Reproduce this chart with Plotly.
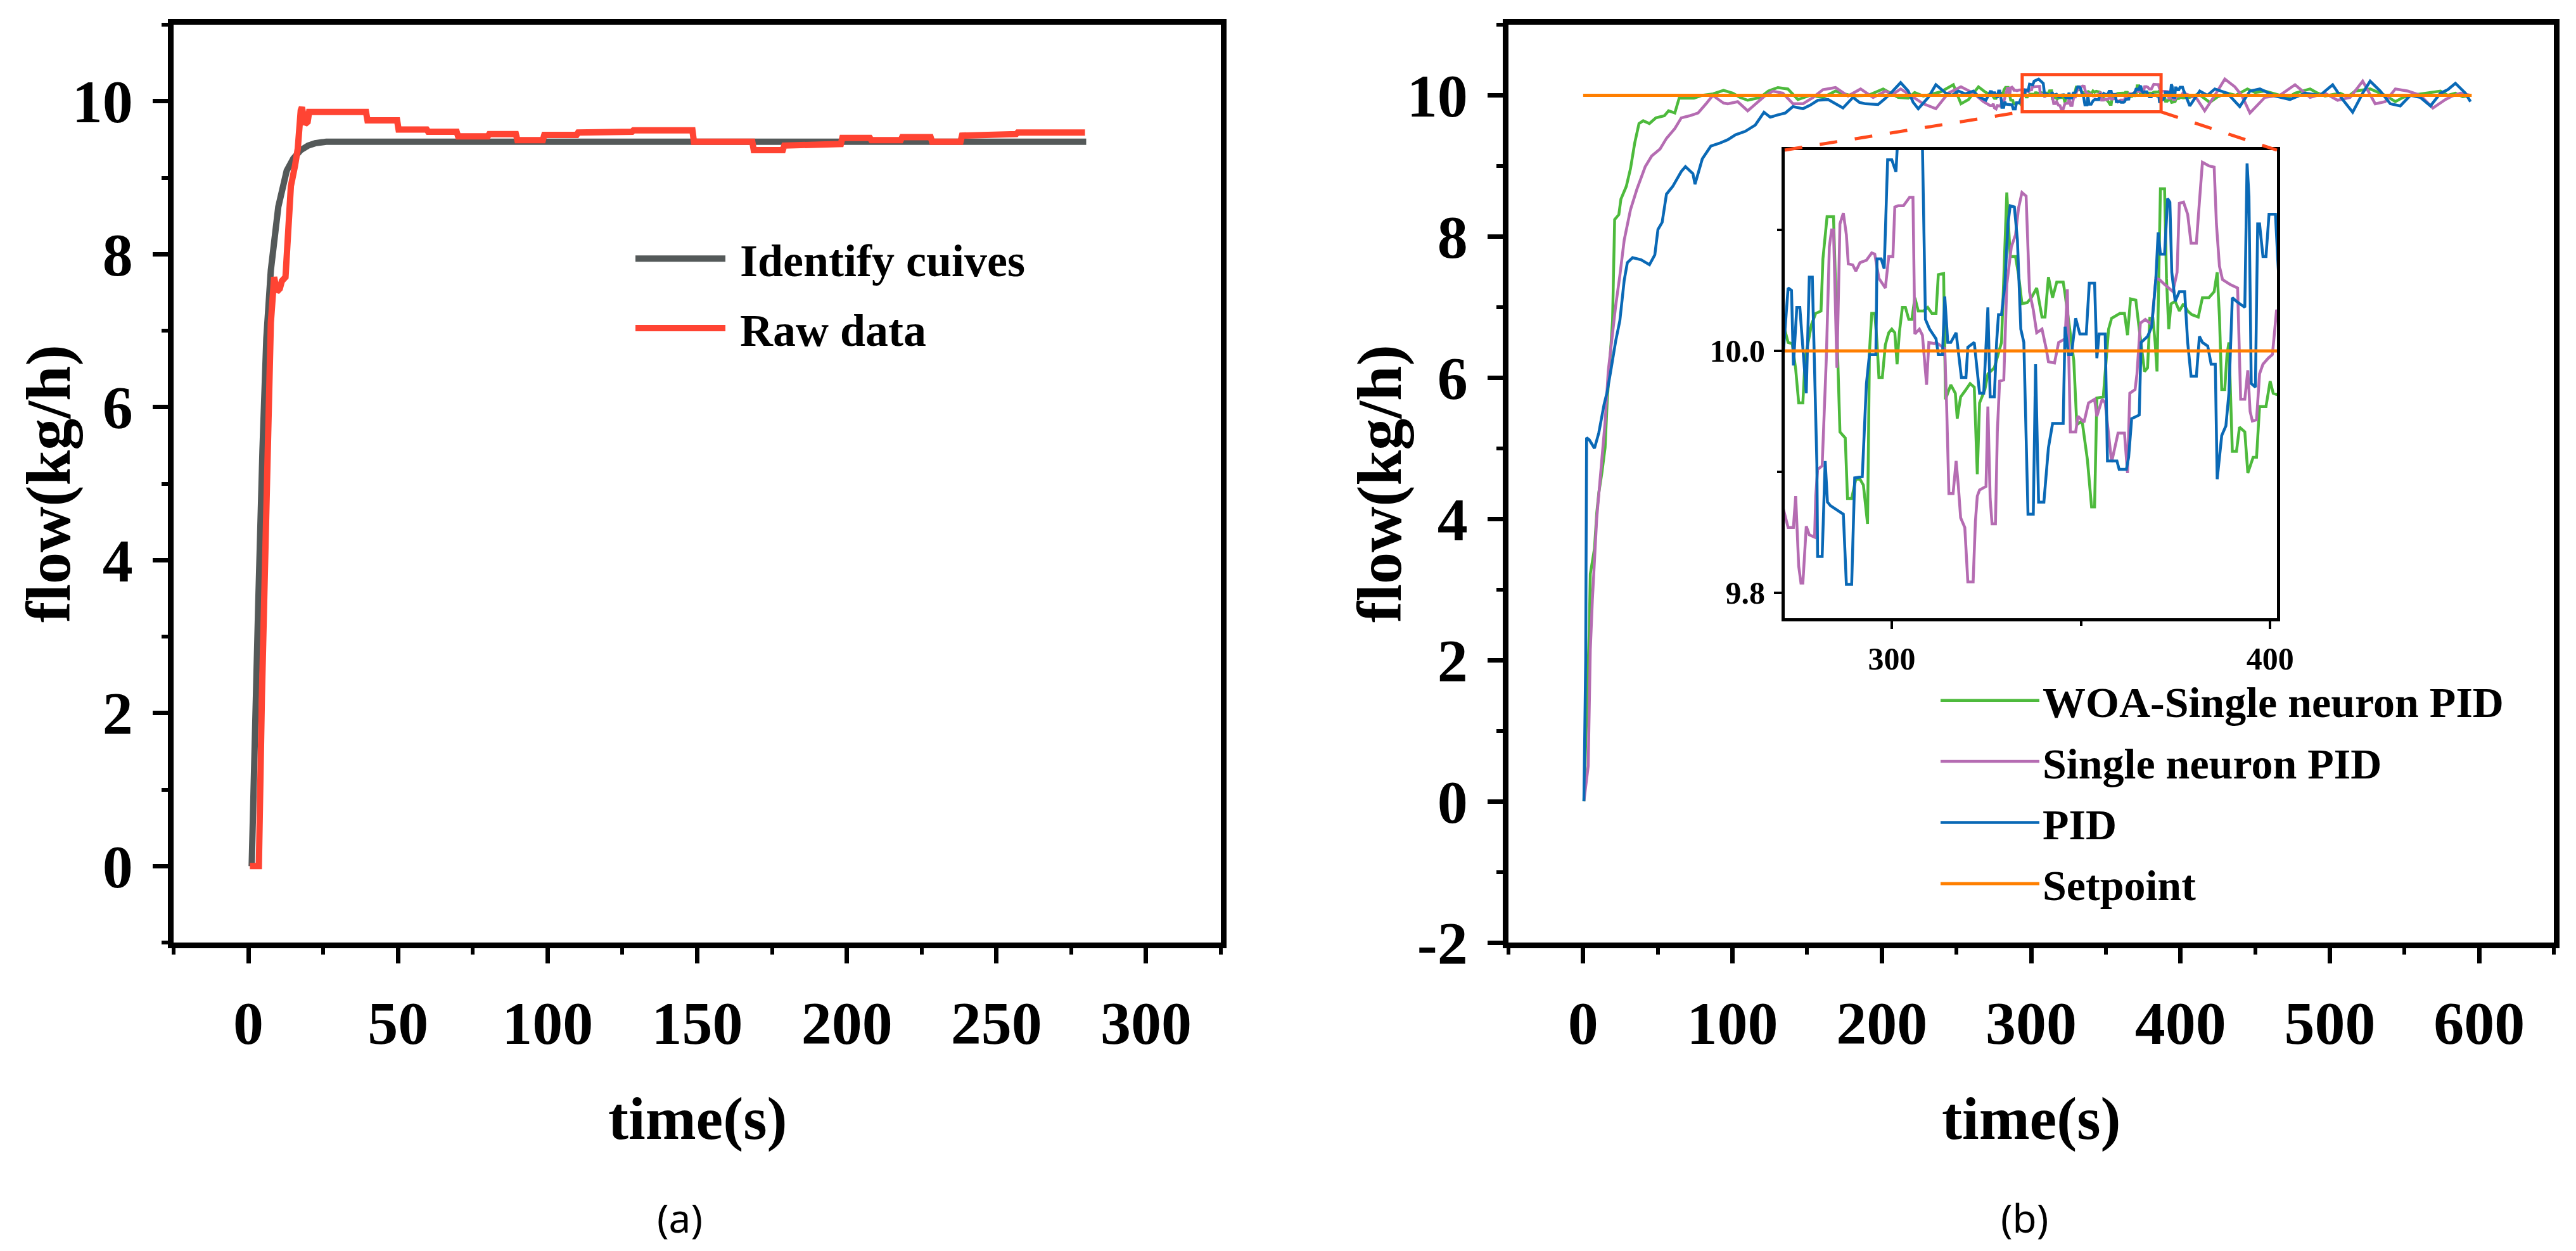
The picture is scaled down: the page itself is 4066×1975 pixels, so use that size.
import plotly.graph_objects as go

W, H = 4066, 1975

# ---------------- panel (a) data ----------------
ident_t = [1.1, 1.9, 3.3, 4.7, 6.0, 7.5, 10.0, 12.8, 15.0, 17.5, 20.0, 22.3, 26.0, 40.0, 100.0, 200.0, 280.0]
ident_v = [0.0, 1.57, 3.44, 5.43, 6.9, 7.79, 8.62, 9.09, 9.25, 9.36, 9.42, 9.45, 9.47, 9.47, 9.47, 9.47, 9.47]

raw_t = [0.5, 3.5, 4.5, 6.0, 7.5, 8.6, 9.5, 10.5, 11.2, 12.4, 13.3, 14.2, 15.6, 16.5, 17.5, 17.9,
         18.9, 19.8, 20.3, 39.3, 39.8, 49.7, 50.2, 59.6, 60.1, 69.6, 70.1, 80.0, 80.5, 89.4, 89.9,
         98.4, 98.9, 109.7, 110.2, 119.7, 120.2, 128.2, 128.7, 148.4, 148.9, 168.4, 168.9, 178.6,
         179.1, 188.3, 188.8, 198.0, 198.5, 207.7, 208.2, 218.0, 218.5, 228.0, 228.5, 238.0, 238.5,
         248.0, 248.5, 256.6, 257.1, 279.6]
raw_v = [0.0, 0.0, 2.2, 5.0, 7.1, 7.7, 7.51, 7.55, 7.65, 7.7, 8.34, 8.89, 9.16, 9.38, 9.88, 9.92,
         9.7, 9.73, 9.86, 9.86, 9.75, 9.75, 9.63, 9.63, 9.6, 9.6, 9.54, 9.54, 9.57, 9.57, 9.49,
         9.49, 9.56, 9.56, 9.59, 9.59, 9.6, 9.6, 9.62, 9.62, 9.47, 9.47, 9.36, 9.36,
         9.42, 9.42, 9.44, 9.44, 9.52, 9.52, 9.49, 9.49, 9.53, 9.53, 9.47, 9.47, 9.55,
         9.55, 9.57, 9.57, 9.59, 9.59]

# ---------------- panel (b) data ----------------
pid_t = [0.5, 1.7, 2.3, 4.1, 7.6, 10.5, 14.0, 16.1, 19.0, 21.8, 24.6, 27.5, 29.6, 33.1, 38.8, 44.4,
         48.0, 50.1, 52.9, 55.8, 60.0, 65.7, 68.5, 73.5, 74.9, 77.0, 79.8, 85.5, 91.2, 96.8, 102.0,
         108.6, 115.3, 121.1, 125.3, 130.0, 135.4, 140.5, 147.2, 152.0, 157.2, 164.0, 169.0, 174.0,
         180.7, 185.0, 189.1, 197.5, 202.0, 206.0, 212.6, 217.7, 221.0, 224.4, 231.1, 236.2, 242.9,
         247.0, 251.3, 256.0, 261.3, 265.0, 269.7,
         272.6, 273.5, 274.0, 274.9, 275.7, 276.5, 277.4, 278.2, 279.0, 280.2, 280.4, 281.6, 282.4,
         283.0, 283.8, 287.2, 288.0, 289.4, 290.2, 292.2, 292.7, 293.3, 294.1, 295.8, 296.1, 297.2,
         298.0, 298.9, 300.0, 301.1, 302.0, 303.5, 305.0, 306.5, 308.1, 308.9, 310.0, 311.7, 312.3,
         313.4, 314.0, 314.8, 315.6, 317.0, 318.4, 319.6, 320.1, 321.8, 323.2, 324.3, 324.9, 325.4,
         326.0, 327.1, 327.7, 328.2, 329.0, 329.9, 330.7, 331.3, 332.4, 333.2, 334.1, 334.9, 336.0,
         337.4, 338.0, 338.8, 340.2, 341.4, 342.5, 345.3, 345.8, 346.7, 347.5, 348.6, 349.7, 351.4,
         352.2, 353.6, 354.2, 354.8, 356.4, 357.0, 359.5, 360.1, 362.0, 362.6, 363.4, 365.4, 365.9,
         367.6, 368.7, 369.8, 370.4, 371.0, 372.1, 372.9, 373.5, 374.0, 374.9, 376.0, 377.4, 378.2,
         379.1, 380.5, 381.3, 382.1, 383.5, 384.4, 385.5, 386.0, 387.2, 388.3, 389.1, 390.0, 391.1,
         393.3, 393.9, 394.4, 395.0, 396.1, 396.7, 397.2, 398.1, 398.9, 399.7, 401.4, 402.0,
         406.2, 412.9, 418.0, 423.0, 431.4, 439.7, 446.5, 453.2, 458.0, 463.3, 473.3, 478.0, 483.4,
         493.5, 501.9, 508.6, 515.3, 522.0, 527.0, 533.8, 540.5, 547.2, 554.0, 560.6, 567.4, 574.1,
         579.0, 584.1, 590.8, 594.2]
pid_v = [0.0, 2.0, 5.15, 5.12, 5.0, 5.22, 5.62, 5.8, 6.16, 6.52, 6.81, 7.38, 7.63, 7.7, 7.67, 7.6,
         7.74, 8.1, 8.2, 8.6, 8.71, 8.92, 8.99, 8.89, 8.74, 8.89, 9.1, 9.28, 9.32, 9.37, 9.44,
         9.49, 9.58, 9.76, 9.69, 9.72, 9.75, 9.84, 9.81, 9.86, 9.93, 9.94, 9.88, 9.82,
         9.97, 9.9, 9.88, 9.87, 9.95, 10.03, 10.18, 10.06, 9.9, 9.81, 9.97, 10.15, 10.03,
         10.0, 10.06, 10.02, 10.06, 9.98, 9.93,
         10.052, 10.05, 9.988, 10.036, 10.036, 10.0, 9.965, 10.061, 10.061, 9.907, 9.83, 9.83, 9.909,
         9.875, 9.872, 9.865, 9.807, 9.807, 9.895, 9.896, 9.93, 9.973, 9.997, 9.997, 10.076, 10.076,
         10.068, 10.158, 10.158, 10.148, 10.2, 10.22, 10.23, 10.2, 10.17, 10.026, 10.018, 10.01, 9.997,
         9.997, 10.045, 10.007, 10.007, 10.015, 9.978, 9.978, 10.003, 10.007, 9.965, 9.965, 10.0, 10.036,
         9.962, 9.962, 10.007, 10.03, 10.03, 10.055, 10.105, 10.12, 10.119, 10.092, 10.018, 10.007, 9.865,
         9.865, 9.989, 9.875, 9.875, 9.92, 9.94, 9.94, 10.02, 9.997, 9.997, 10.027, 10.014, 10.014,
         10.056, 10.056, 9.994, 10.014, 10.014, 9.909, 9.909, 9.902, 9.902, 9.912, 9.944, 9.947, 10.007,
         10.012, 10.02, 10.06, 10.098, 10.08, 10.08, 10.126, 10.123, 10.065, 10.041, 10.049, 10.049, 10.007,
         9.979, 9.979, 10.012, 10.007, 10.004, 9.989, 9.989, 9.894, 9.93, 9.938, 9.965, 10.044, 10.041,
         10.036, 10.155, 10.128, 9.973, 9.97, 10.105, 10.105, 10.078, 10.078, 10.113, 10.113, 10.076,
         9.85, 10.06, 10.0, 10.09, 10.03, 9.84, 10.06, 10.09, 10.04, 9.99, 9.94, 9.98, 10.03,
         10.0, 10.15, 9.94, 9.76, 10.03, 10.2, 10.06, 9.88, 9.85, 10.0, 9.97, 9.85, 10.03,
         10.08, 10.17, 10.03, 9.91]

woa_t = [0.5, 2.5, 4.1, 4.8, 7.6, 9.1, 10.5, 12.6, 14.7, 16.1, 18.3, 19.7, 21.1, 23.9, 25.3, 28.9,
         31.7, 34.5, 37.4, 40.2, 44.4, 48.7, 54.4, 57.2, 61.4, 64.3, 69.9, 74.2, 79.8, 87.0, 94.0,
         100.2, 105.0, 110.2, 118.6, 124.0, 130.4, 137.1, 143.8, 152.2, 160.6, 169.0, 175.0, 180.7,
         190.8, 200.9, 211.0, 217.7, 222.0, 227.8, 234.0, 239.5, 247.9, 253.0, 258.0, 264.7, 269.0,
         272.6, 273.7, 274.6, 275.4, 276.5, 277.1, 278.8, 279.9, 281.3, 281.8, 282.9, 284.6, 285.2,
         285.8, 286.3, 287.7, 288.3, 289.4, 290.5, 291.6, 292.5, 293.6, 294.1, 294.7, 295.5, 296.1,
         296.6, 297.5, 298.3, 299.2, 300.0, 300.8, 301.4, 302.0, 302.8, 303.6, 304.5, 305.3, 306.1,
         307.0, 308.4, 309.5, 310.6, 311.7, 312.3, 313.7, 314.2, 315.6, 316.8, 317.3, 318.2, 319.6,
         320.7, 321.8, 322.1, 322.6, 323.2, 324.6, 325.4, 327.1, 329.0, 329.9, 330.4, 331.3, 332.7,
         333.5, 334.4, 335.8, 336.9, 338.3, 339.7, 340.5, 341.4, 342.5, 343.6, 345.3, 345.8, 346.9,
         348.1, 348.9, 350.3, 351.7, 352.8, 353.6, 354.2, 355.9, 356.4, 357.3, 358.1, 360.3, 361.5,
         362.3, 363.1, 364.5, 365.4, 365.9, 366.8, 367.6, 368.2, 369.0, 369.6, 370.1, 371.0, 372.1,
         372.6, 373.2, 373.8, 374.9, 376.0, 377.1, 378.2, 379.3, 381.0, 382.1, 383.8, 385.2, 386.0,
         386.6, 387.2, 388.0, 388.6, 389.1, 390.0, 391.1, 391.9, 393.3, 394.1, 395.5, 396.4, 397.2,
         398.9, 400.0, 400.8, 401.7,
         406.2, 412.0, 419.6, 425.0, 431.4, 437.0, 444.8, 450.0, 456.5, 466.6, 472.0, 476.7, 486.8,
         491.0, 496.8, 506.9, 512.0, 517.0, 527.0, 537.1, 543.9, 549.0, 554.0, 564.0, 574.1, 579.0,
         584.1, 589.0, 594.2]
woa_v = [0.0, 1.2, 2.43, 3.22, 3.58, 4.08, 4.37, 4.66, 5.01, 5.66, 6.38, 6.81, 8.24, 8.31, 8.53, 8.71,
         8.96, 9.32, 9.6, 9.64, 9.6, 9.68, 9.71, 9.78, 9.75, 9.96, 9.96, 9.96, 10.0, 10.02, 10.07,
         10.03, 9.97, 9.93, 9.97, 10.06, 10.11, 10.09, 9.94, 10.0, 9.97, 10.06, 10.02, 9.99,
         10.0, 10.09, 9.97, 9.96, 10.04, 9.99, 10.02, 10.05, 10.15, 9.88, 9.94, 10.12, 10.05,
         10.007, 10.006, 9.985, 9.957, 9.957, 9.994, 10.022, 10.031, 10.033, 10.076, 10.111, 10.111, 10.049,
         9.981, 9.933, 9.928, 9.878, 9.878, 9.894, 9.894, 9.889, 9.857, 9.999, 10.031, 10.031, 10.007,
         9.978, 9.978, 10.005, 10.015, 10.018, 10.015, 9.989, 10.015, 10.036, 10.036, 10.026, 10.026, 10.044,
         10.033, 10.033, 10.036, 10.031, 10.031, 10.063, 10.064, 9.96, 9.972, 9.965, 9.944, 9.962, 9.968,
         9.973, 9.97, 9.941, 9.898, 9.957, 9.968, 9.981, 9.986, 10.007, 10.089, 10.131, 10.078, 10.078,
         10.063, 10.039, 10.04, 10.044, 10.052, 10.028, 10.028, 10.061, 10.044, 10.057, 10.057, 10.047, 10.021,
         9.992, 9.939, 9.942, 9.91, 9.871, 9.871, 9.961, 9.962, 9.981, 10.018, 10.027, 10.031, 10.031,
         10.013, 10.043, 10.042, 10.018, 10.007, 9.983, 9.986, 10.027, 10.027, 10.007, 9.983, 10.134, 10.134,
         10.06, 10.018, 10.039, 10.041, 10.033, 10.039, 10.033, 10.03, 10.028, 10.044, 10.044, 10.049, 10.065,
         10.028, 9.968, 9.968, 9.997, 10.007, 9.917, 9.917, 9.937, 9.933, 9.899, 9.912, 9.912, 9.954,
         9.954, 9.975, 9.965, 9.964,
         9.97, 10.02, 9.9, 9.98, 10.03, 10.0, 10.09, 10.04, 10.06, 10.0, 9.97, 10.03, 10.09,
         10.04, 9.99, 10.03, 9.98, 10.06, 10.09, 10.0, 9.91, 9.97, 10.0, 10.03, 10.06, 10.0,
         10.03, 9.98, 10.0]

sn_t = [0.5, 2.0, 3.4, 4.8, 6.2, 9.1, 11.9, 14.7, 16.8, 19.0, 21.8, 24.6, 27.5, 31.7, 36.0, 41.6,
        45.9, 51.5, 55.8, 61.4, 65.7, 71.3, 77.0, 82.7, 86.9, 90.0, 94.0, 96.8, 103.5, 110.2, 117.0,
        121.0, 127.0, 133.7, 140.5, 147.2, 153.9, 160.6, 169.0, 177.4, 185.8, 194.2, 202.6, 207.0,
        212.6, 221.0, 227.8, 236.2, 244.5, 253.0, 261.3, 268.0,
        272.6, 274.0, 274.6, 275.4, 276.0, 276.5, 277.4, 278.2, 279.6, 279.9, 280.4, 281.6, 282.7,
        283.5, 284.1, 284.6, 285.5, 286.3, 287.2, 288.0, 288.5, 289.7, 290.5, 291.6, 293.3, 294.7,
        295.5, 296.6, 298.3, 299.2, 300.3, 300.8, 301.7, 303.1, 304.7, 305.6, 306.1, 307.3, 308.1,
        309.2, 309.8, 311.2, 311.7, 314.0, 314.5, 315.1, 316.2, 317.0, 317.6, 318.2, 319.3, 320.1,
        321.5, 322.1, 322.6, 323.2, 324.9, 325.4, 326.0, 326.5, 327.4, 327.9, 328.5, 329.6, 330.4,
        331.6, 332.7, 333.5, 334.4, 335.5, 336.4, 337.4, 338.3, 339.7, 340.8, 341.4, 343.0, 344.1,
        345.8, 346.4, 347.2, 348.6, 349.2, 350.8, 352.0, 353.6, 354.2, 355.6, 356.4, 357.3, 358.1,
        359.8, 361.5, 362.3, 362.9, 364.3, 364.8, 365.7, 367.0, 368.2, 368.7, 369.8, 370.7, 372.1,
        373.2, 374.3, 375.4, 376.0, 377.1, 378.2, 379.1, 380.5, 381.3, 382.1, 383.8, 385.2, 385.8,
        386.6, 387.4, 389.4, 391.4, 392.2, 393.3, 394.1, 394.7, 395.3, 396.4, 397.2, 398.1, 399.5,
        400.6, 401.7,
        406.2, 411.0, 416.2, 423.0, 429.7, 436.4, 441.0, 446.5, 456.5, 466.6, 476.7, 486.8, 496.8,
        505.2, 513.6, 522.0, 530.4, 537.1, 543.9, 552.2, 560.6, 569.0, 577.4, 582.0, 587.5, 594.2]
sn_v = [0.0, 0.3, 0.5, 2.15, 2.86, 4.01, 4.66, 5.37, 6.09, 6.52, 7.02, 7.45, 7.95, 8.38, 8.67, 8.99,
        9.14, 9.24, 9.39, 9.53, 9.68, 9.71, 9.75, 9.89, 10.0, 9.95, 9.89, 9.88, 9.91, 9.78, 9.91,
        9.98, 10.06, 10.03, 9.88, 9.88, 9.97, 10.08, 10.11, 9.99, 10.09, 9.97, 10.06, 10.01,
        10.09, 9.97, 9.88, 9.81, 10.03, 10.12, 10.03, 9.91,
        9.854, 9.854, 9.88, 9.822, 9.808, 9.808, 9.855, 9.848, 9.846, 9.88, 9.902, 9.905, 9.994,
        10.086, 10.1, 10.1, 9.986, 10.105, 10.114, 10.096, 10.072, 10.071, 10.066, 10.073, 10.075, 10.081,
        10.08, 10.06, 10.052, 10.078, 10.078, 10.119, 10.12, 10.12, 10.127, 10.127, 10.014, 10.018, 10.013,
        9.972, 10.007, 10.006, 10.007, 10.002, 9.954, 9.882, 9.882, 9.909, 9.888, 9.862, 9.854, 9.809,
        9.809, 9.859, 9.88, 9.885, 9.888, 9.954, 9.878, 9.857, 9.857, 9.933, 9.975, 9.976, 10.055,
        10.086, 10.096, 10.118, 10.131, 10.128, 10.049, 10.034, 10.015, 10.018, 10.002, 9.991, 9.99, 10.007,
        10.01, 10.051, 9.933, 9.933, 9.946, 9.941, 9.957, 9.96, 9.946, 9.96, 9.957, 9.928, 9.908,
        9.932, 9.932, 9.899, 9.965, 9.968, 9.981, 10.023, 10.026, 10.023, 10.022, 10.06, 10.059, 10.055,
        10.052, 10.049, 10.065, 10.122, 10.123, 10.113, 10.089, 10.089, 10.123, 10.156, 10.153, 10.152, 10.105,
        10.07, 10.059, 10.055, 10.052, 9.96, 9.96, 9.984, 9.95, 9.942, 9.943, 9.981, 9.989, 9.994,
        9.997, 10.034,
        10.0, 9.95, 9.78, 10.0, 10.23, 10.12, 10.0, 9.75, 9.97, 10.0, 10.15, 9.97, 10.03,
        9.93, 9.97, 10.2, 9.88, 9.91, 10.09, 10.06, 10.0, 9.82, 9.94, 9.99, 10.03, 10.0]

set_t = [0.0, 595.0]
set_v = [10.0, 10.0]

# zoom window on panel (b)
zoom_t = [294.0, 387.0]
zoom_v = [9.766, 10.294]

# ---------------- styling ----------------
FONT = "Liberation Serif"
C_GRAY, C_RED = "#545959", "#ff4433"
C_GREEN, C_PURPLE, C_BLUE, C_ORANGE = "#4dba3c", "#b56cb2", "#0a69b6", "#ff7f00"
C_BOX = "#ff4a1c"
NB = "\u00a0"

dom_a_x = [266 / W, 1919 / W]
dom_b_x = [2373 / W, 4023 / W]
dom_y = [1 - 1480 / H, 1 - 31 / H]
dom_in_x = [2809 / W, 3586 / W]
dom_in_y = [1 - 968 / H, 1 - 229 / H]

range_a_x, range_a_y = [-25, 325], [-1, 11]
range_b_x, range_b_y = [-50, 650], [-2, 11]
range_in_x, range_in_y = [271.7, 401.8], [9.779, 10.166]


def main_axis(domain, rng, dtick, minor_dtick, anchor):
    return dict(domain=domain, range=rng, anchor=anchor, dtick=dtick, tick0=0,
                showline=True, linecolor="black", linewidth=9, mirror=True,
                ticks="outside", ticklen=24, tickwidth=7, tickcolor="black",
                minor=dict(ticks="outside", ticklen=10, tickwidth=6, tickcolor="black", dtick=minor_dtick),
                showgrid=False, zeroline=False, automargin=False, ticklabelstandoff=12,
                tickfont=dict(family=FONT, size=96, color="black", weight="bold"))


fig = go.Figure()

fig.add_trace(go.Scatter(x=ident_t, y=ident_v, mode="lines", name=NB + "Identify cuives",
                         line=dict(color=C_GRAY, width=10), xaxis="x", yaxis="y",
                         legend="legend", legendgroup="a1"))
fig.add_trace(go.Scatter(x=raw_t, y=raw_v, mode="lines", name=NB + "Raw data",
                         line=dict(color=C_RED, width=10), xaxis="x", yaxis="y",
                         legend="legend", legendgroup="a2"))

series_b = [("WOA-Single neuron PID", woa_t, woa_v, C_GREEN),
            ("Single neuron PID", sn_t, sn_v, C_PURPLE),
            ("PID", pid_t, pid_v, C_BLUE),
            ("Setpoint", set_t, set_v, C_ORANGE)]

for i, (name, tt, vv, col) in enumerate(series_b):
    fig.add_trace(go.Scatter(x=tt, y=vv, mode="lines", name=name,
                             line=dict(color=col, width=5 if name == "Setpoint" else 4.5),
                             xaxis="x2", yaxis="y2", legend="legend2", legendgroup="b%d" % i))
for name, tt, vv, col in series_b:
    fig.add_trace(go.Scatter(x=tt, y=vv, mode="lines", name=name, showlegend=False,
                             line=dict(color=col, width=5 if name == "Setpoint" else 4.5),
                             xaxis="x3", yaxis="y3"))

ax_a_x = main_axis(dom_a_x, range_a_x, 50, 25, "y")
ax_a_y = main_axis(dom_y, range_a_y, 2, 1, "x")
ax_b_x = main_axis(dom_b_x, range_b_x, 100, 50, "y2")
ax_b_y = main_axis(dom_y, range_b_y, 2, 1, "x2")
ax_b_y.update(tickmode="array", tickvals=[-2, 0, 2, 4, 6, 8, 10],
              ticktext=["-2", "0", "2", "4", "6", "8", "10"])

inset_common = dict(showline=True, linecolor="black", linewidth=5, mirror=True,
                    ticks="outside", ticklen=12, tickwidth=4, tickcolor="black",
                    showgrid=False, zeroline=False, automargin=False, ticklabelstandoff=4,
                    tickfont=dict(family=FONT, size=50, color="black", weight="bold"))
ax_in_x = dict(domain=dom_in_x, range=range_in_x, anchor="y3", tickvals=[300, 400],
               minor=dict(ticks="outside", ticklen=7, tickwidth=4, tickcolor="black", dtick=50, tick0=0),
               **inset_common)
ax_in_y = dict(domain=dom_in_y, range=range_in_y, anchor="x3", tickvals=[9.8, 10.0], tickformat=".1f",
               minor=dict(ticks="outside", ticklen=7, tickwidth=4, tickcolor="black", tickvals=[9.9, 10.1]),
               **inset_common)


def to_paper(t, v):
    px = dom_b_x[0] + (t - range_b_x[0]) / (range_b_x[1] - range_b_x[0]) * (dom_b_x[1] - dom_b_x[0])
    py = dom_y[0] + (v - range_b_y[0]) / (range_b_y[1] - range_b_y[0]) * (dom_y[1] - dom_y[0])
    return px, py


bl = to_paper(zoom_t[0], zoom_v[0])
br = to_paper(zoom_t[1], zoom_v[0])
shapes = [
    dict(type="rect", xref="x2", yref="y2", x0=zoom_t[0], x1=zoom_t[1], y0=zoom_v[0], y1=zoom_v[1],
         line=dict(color=C_BOX, width=5), layer="above"),
    dict(type="line", xref="paper", yref="paper", x0=dom_in_x[0], y0=dom_in_y[1], x1=bl[0], y1=bl[1],
         line=dict(color=C_BOX, width=5, dash="28px,28px")),
    dict(type="line", xref="paper", yref="paper", x0=br[0], y0=br[1], x1=dom_in_x[1], y1=dom_in_y[1],
         line=dict(color=C_BOX, width=5, dash="28px,28px")),
]

title_font = dict(family=FONT, size=96, color="black", weight="bold")
cap_font = dict(family="Noto Sans", size=62, color="black")
annotations = [
    dict(text="time(s)", x=1093 / W, y=1 - 1757 / H, xref="paper", yref="paper", showarrow=False,
         font=title_font, xanchor="center", yanchor="middle"),
    dict(text="time(s)", x=3198 / W, y=1 - 1757 / H, xref="paper", yref="paper", showarrow=False,
         font=title_font, xanchor="center", yanchor="middle"),
    dict(text="flow(kg/h)", x=68 / W, y=1 - 756 / H, xref="paper", yref="paper", showarrow=False,
         textangle=-90, font=dict(title_font, size=100), xanchor="center", yanchor="middle"),
    dict(text="flow(kg/h)", x=2169 / W, y=1 - 756 / H, xref="paper", yref="paper", showarrow=False,
         textangle=-90, font=dict(title_font, size=100), xanchor="center", yanchor="middle"),
    dict(text="(a)", x=1065 / W, y=1 - 1914 / H, xref="paper", yref="paper", showarrow=False,
         font=cap_font, xanchor="center", yanchor="middle"),
    dict(text="(b)", x=3187 / W, y=1 - 1914 / H, xref="paper", yref="paper", showarrow=False,
         font=cap_font, xanchor="center", yanchor="middle"),
]

fig.update_layout(
    width=W, height=H,
    margin=dict(l=0, r=0, t=0, b=0),
    paper_bgcolor="white", plot_bgcolor="white",
    xaxis=ax_a_x, yaxis=ax_a_y,
    xaxis2=ax_b_x, yaxis2=ax_b_y,
    xaxis3=ax_in_x, yaxis3=ax_in_y,
    shapes=shapes, annotations=annotations,
    legend=dict(x=990 / W, y=1 - 347 / H, xanchor="left", yanchor="top", bgcolor="rgba(0,0,0,0)",
                font=dict(family=FONT, size=72, color="black", weight="bold"), itemwidth=142,
                tracegroupgap=13),
    legend2=dict(x=3050 / W, y=1 - 1047 / H, xanchor="left", yanchor="top", bgcolor="rgba(0,0,0,0)",
                 font=dict(family=FONT, size=68, color="black", weight="bold"), itemwidth=156,
                 tracegroupgap=5),
)

fig.write_html("out.html")
